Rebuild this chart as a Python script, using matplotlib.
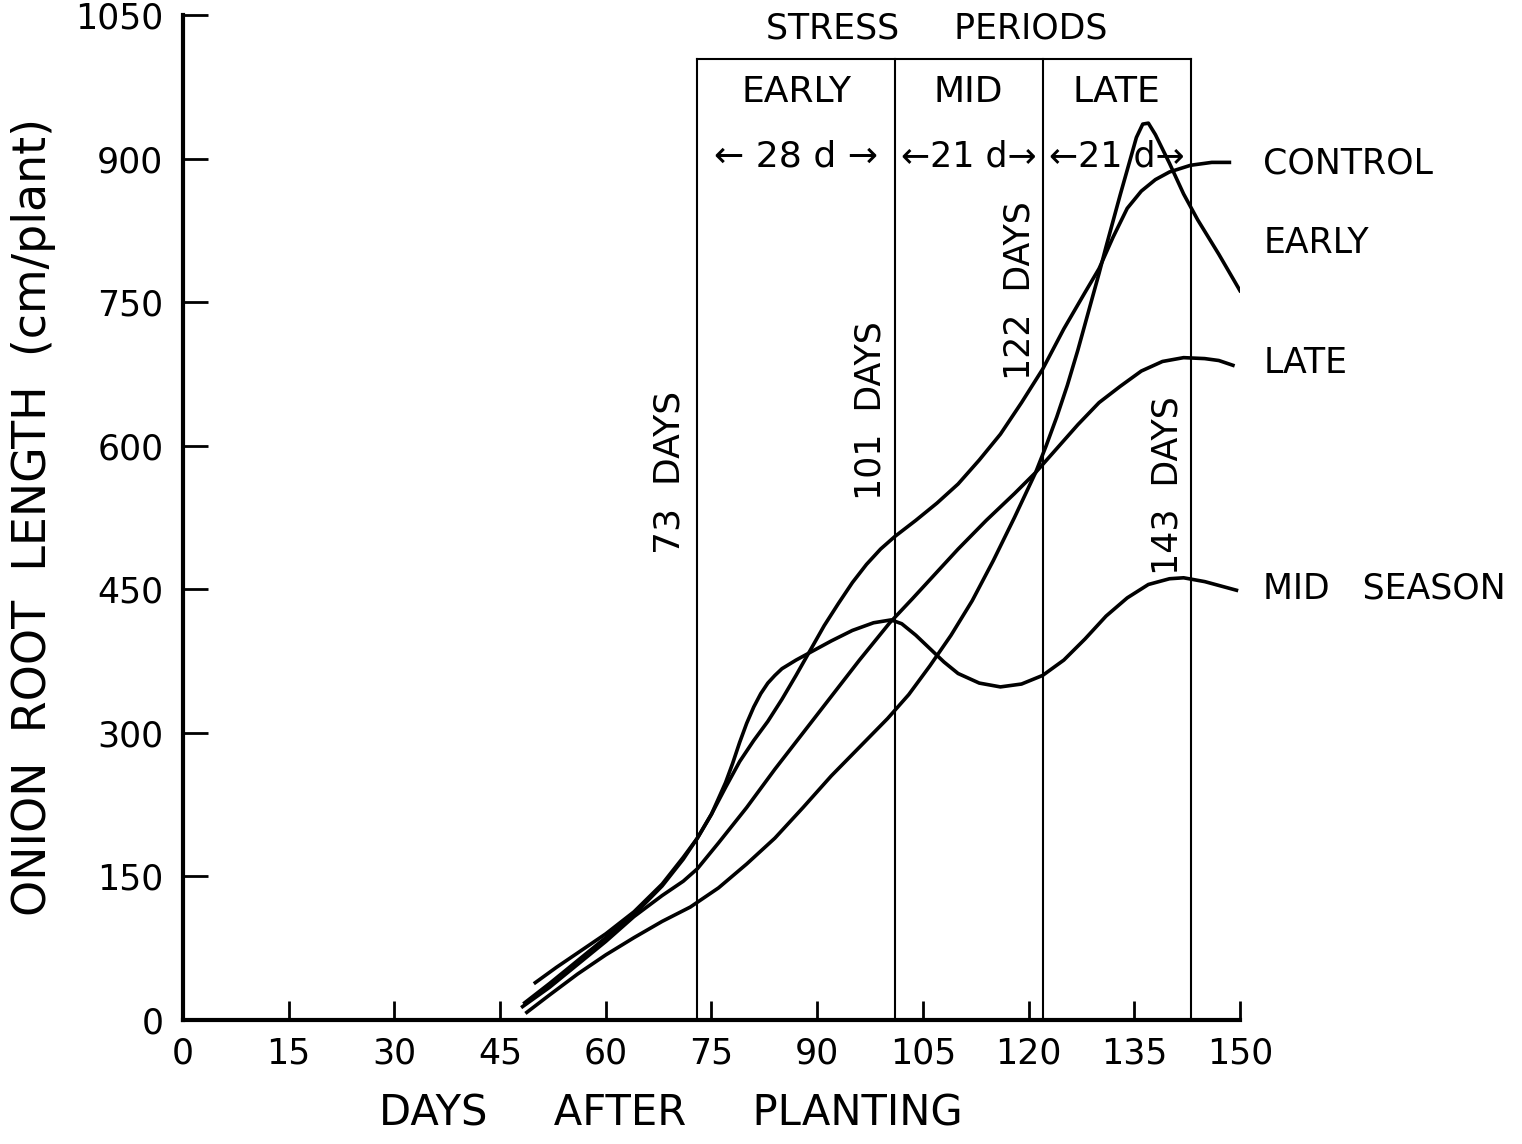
import matplotlib
matplotlib.use("Agg")
import matplotlib.pyplot as plt

# Days after planting / root length (cm/plant)
control_x = [48.5, 52, 56, 60, 64, 68, 71, 73, 75, 77, 79, 81, 83, 85, 87, 89, 91, 93, 95, 97, 99,
             101, 104, 107, 110, 113, 116, 119, 122, 125, 128, 130, 132, 134, 136, 138, 140, 143, 146, 148.5]
control_y = [18, 38, 62, 86, 110, 140, 168, 190, 215, 243, 270, 292, 312, 335, 360, 386, 412, 435, 457, 476, 492,
             505, 522, 540, 560, 585, 612, 645, 680, 722, 760, 785, 818, 848, 866, 878, 886, 893, 896, 896]

early_x = [48.8, 52, 56, 60, 64, 68, 72, 76, 80, 84, 88, 92, 96, 100, 103, 106, 109, 112, 115, 118,
           121, 122.5, 124, 125.5, 127, 128.5, 130, 131, 132, 133, 134, 135.3, 136.2, 137, 138, 140, 142,
           144, 147, 150]
early_y = [8, 26, 48, 68, 86, 103, 118, 138, 163, 190, 222, 255, 285, 315, 340, 370, 402, 438, 480, 525,
           572, 600, 630, 663, 700, 740, 780, 808, 835, 862, 888, 922, 936, 937, 925, 895, 863,
           836, 800, 762]

late_x = [48.2, 52, 56, 60, 64, 68, 71, 73, 76, 80, 84, 88, 92, 96, 100.3, 103.5, 107, 110, 114, 118,
          121, 124, 127, 130, 133, 136, 139, 142, 145, 147, 149]
late_y = [14, 34, 58, 82, 108, 130, 145, 158, 185, 222, 262, 300, 338, 376, 415, 440, 468, 492, 522, 550,
          572, 597, 622, 645, 662, 678, 688, 692, 691, 689, 684]

mid_x = [50, 53, 56, 60, 64, 68, 71, 73, 75, 77, 78, 79, 80, 81, 82, 83, 84, 85, 87, 89, 92, 95, 98,
         100.5, 102, 104, 106, 108, 110, 113, 116, 119, 122, 125, 128, 131, 134, 137, 140, 142, 145, 149.5]
mid_y = [39, 55, 70, 90, 113, 142, 170, 190, 215, 248, 268, 290, 310, 327, 341, 352, 360, 367, 376, 384,
         396, 407, 415, 418, 414, 402, 388, 374, 362, 352, 348, 351, 360, 376, 398, 422, 441, 455, 461,
         462, 458, 449]

curve_labels = ["CONTROL", "EARLY", "LATE", "MID   SEASON"]
curve_label_y = [895, 812, 686, 451]

period_days = [73, 101, 122, 143]
period_names = ["EARLY", "MID", "LATE"]
period_lengths = ["\u2190 28 d \u2192", "\u219021 d\u2192", "\u219021 d\u2192"]

fig = plt.figure(figsize=(15.22, 11.44), dpi=100)
ax = fig.add_axes([0.1202, 0.1084, 0.6945, 0.8785])

lw = 2.6
ax.plot(control_x, control_y, color="black", lw=lw)
ax.plot(early_x, early_y, color="black", lw=lw)
ax.plot(late_x, late_y, color="black", lw=lw)
ax.plot(mid_x, mid_y, color="black", lw=lw)

# stress period box
box_top = 1004
for d in period_days:
    ax.plot([d, d], [0, box_top], color="black", lw=1.5, clip_on=False)
ax.plot([period_days[0], period_days[-1]], [box_top, box_top], color="black", lw=1.5, clip_on=False)

for i, name in enumerate(period_names):
    mid = (period_days[i] + period_days[i + 1]) / 2
    ax.text(mid, 970, name, ha="center", va="center", fontsize=26)
    ax.text(mid, 902, period_lengths[i], ha="center", va="center", fontsize=26 if i == 0 else 25)

ax.text(107, 1036, "STRESS     PERIODS", ha="center", va="center", fontsize=25, clip_on=False)

# vertical day labels
ax.text(69.0, 572, "73  DAYS", rotation=90, ha="center", va="center", fontsize=26)
ax.text(97.5, 637, "101  DAYS", rotation=90, ha="center", va="center", fontsize=25)
ax.text(118.7, 762, "122  DAYS", rotation=90, ha="center", va="center", fontsize=25)
ax.text(139.7, 558, "143  DAYS", rotation=90, ha="center", va="center", fontsize=25)

for lab, yv in zip(curve_labels, curve_label_y):
    ax.text(153.3, yv, lab, ha="left", va="center", fontsize=25, clip_on=False)

ax.set_xlim(0, 150)
ax.set_ylim(0, 1050)
ax.set_xticks(range(0, 151, 15))
ax.set_yticks(range(0, 1051, 150))
ax.spines["top"].set_visible(False)
ax.spines["right"].set_visible(False)
ax.spines["left"].set_linewidth(3)
ax.spines["bottom"].set_linewidth(3)
ax.tick_params(axis="both", direction="in", width=2, color="black")
ax.tick_params(axis="x", length=14, pad=12, labelsize=25)
ax.tick_params(axis="y", length=18, pad=14, labelsize=25)

ax.set_xlabel("DAYS     AFTER     PLANTING", fontsize=30)
ax.xaxis.set_label_coords(0.462, -0.072)
ax.set_ylabel("ONION  ROOT  LENGTH  (cm/plant)", fontsize=33, labelpad=14)

fig.savefig("out.png", dpi=100)
